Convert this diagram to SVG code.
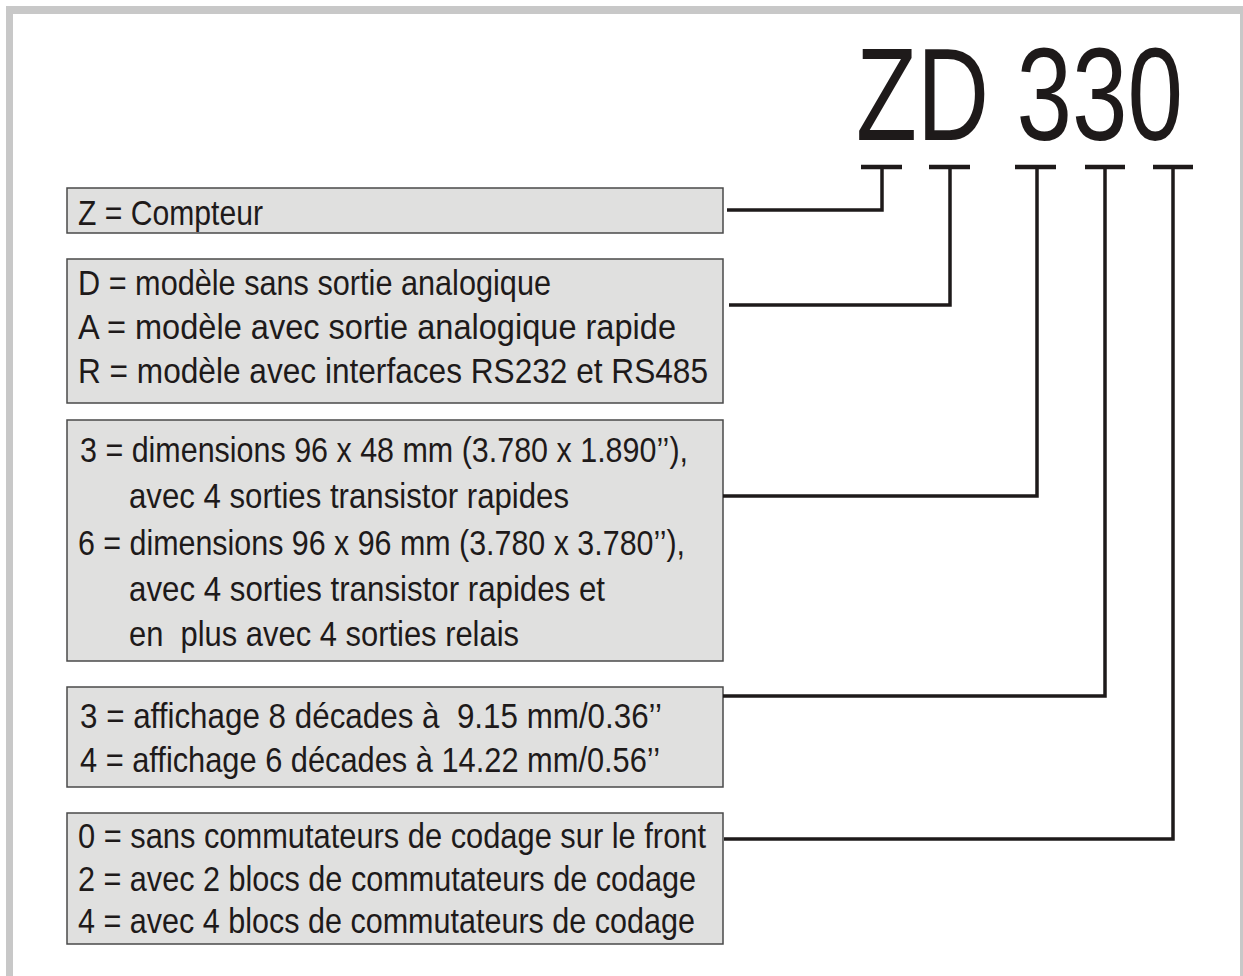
<svg xmlns="http://www.w3.org/2000/svg" width="1243" height="976" viewBox="0 0 1243 976">
<style>
.frame{fill:#c8c8c8}
.box{fill:#e0e0df;stroke:#4a4a4a;stroke-width:1.5}
.t{font-family:"Liberation Sans",Arial,sans-serif;font-size:35px;fill:#1e1a1a;white-space:pre}
.title{font-family:"Liberation Sans",Arial,sans-serif;font-size:132px;fill:#1e1a1a}
.ln{fill:none;stroke:#1e1a1a;stroke-width:3.5}
.bar{fill:none;stroke:#1e1a1a;stroke-width:4.5}
</style>
<rect width="1243" height="976" fill="#ffffff"/>
<g id="frame">
<rect class="frame" x="6" y="6" width="1237" height="8"/>
<rect class="frame" x="6" y="6" width="7" height="970"/>
<rect class="frame" x="1240" y="6" width="3" height="970"/>
</g>
<g id="title"><text class="title" x="856" y="140" textLength="327" lengthAdjust="spacingAndGlyphs">ZD 330</text></g>
<g id="box1">
<rect class="box" x="67" y="188" width="656" height="45"/>
<text class="t" x="78" y="225" textLength="185" lengthAdjust="spacingAndGlyphs">Z = Compteur</text>
</g>
<g id="box2">
<rect class="box" x="67" y="259" width="656" height="144"/>
<text class="t" x="78" y="295" textLength="473" lengthAdjust="spacingAndGlyphs">D = modèle sans sortie analogique</text>
<text class="t" x="78" y="339" textLength="598" lengthAdjust="spacingAndGlyphs">A = modèle avec sortie analogique rapide</text>
<text class="t" x="78" y="383" textLength="630" lengthAdjust="spacingAndGlyphs">R = modèle avec interfaces RS232 et RS485</text>
</g>
<g id="box3">
<rect class="box" x="67" y="420" width="656" height="241"/>
<text class="t" x="80" y="462" textLength="608" lengthAdjust="spacingAndGlyphs">3 = dimensions 96 x 48 mm (3.780 x 1.890’’),</text>
<text class="t" x="129" y="508" textLength="440" lengthAdjust="spacingAndGlyphs">avec 4 sorties transistor rapides</text>
<text class="t" x="78" y="555" textLength="607" lengthAdjust="spacingAndGlyphs">6 = dimensions 96 x 96 mm (3.780 x 3.780’’),</text>
<text class="t" x="129" y="601" textLength="476" lengthAdjust="spacingAndGlyphs">avec 4 sorties transistor rapides et</text>
<text class="t" x="129" y="646" textLength="390" lengthAdjust="spacingAndGlyphs">en  plus avec 4 sorties relais</text>
</g>
<g id="box4">
<rect class="box" x="67" y="687" width="656" height="100"/>
<text class="t" x="80" y="728" textLength="582" lengthAdjust="spacingAndGlyphs">3 = affichage 8 décades à  9.15 mm/0.36’’</text>
<text class="t" x="80" y="772" textLength="580" lengthAdjust="spacingAndGlyphs">4 = affichage 6 décades à 14.22 mm/0.56’’</text>
</g>
<g id="box5">
<rect class="box" x="67" y="813" width="656" height="131"/>
<text class="t" x="78" y="848" textLength="628" lengthAdjust="spacingAndGlyphs">0 = sans commutateurs de codage sur le front</text>
<text class="t" x="78" y="891" textLength="618" lengthAdjust="spacingAndGlyphs">2 = avec 2 blocs de commutateurs de codage</text>
<text class="t" x="78" y="933" textLength="617" lengthAdjust="spacingAndGlyphs">4 = avec 4 blocs de commutateurs de codage</text>
</g>
<g id="connectors">
<path class="bar" d="M861 167H902M929 167H970M1015 167H1056M1085 167H1125M1153 167H1193"/>
<path class="ln" d="M727 210H882V167"/>
<path class="ln" d="M729 305H950V167"/>
<path class="ln" d="M723 496H1037V167"/>
<path class="ln" d="M723 696H1105V167"/>
<path class="ln" d="M724 839H1173V167"/>
</g>
</svg>
